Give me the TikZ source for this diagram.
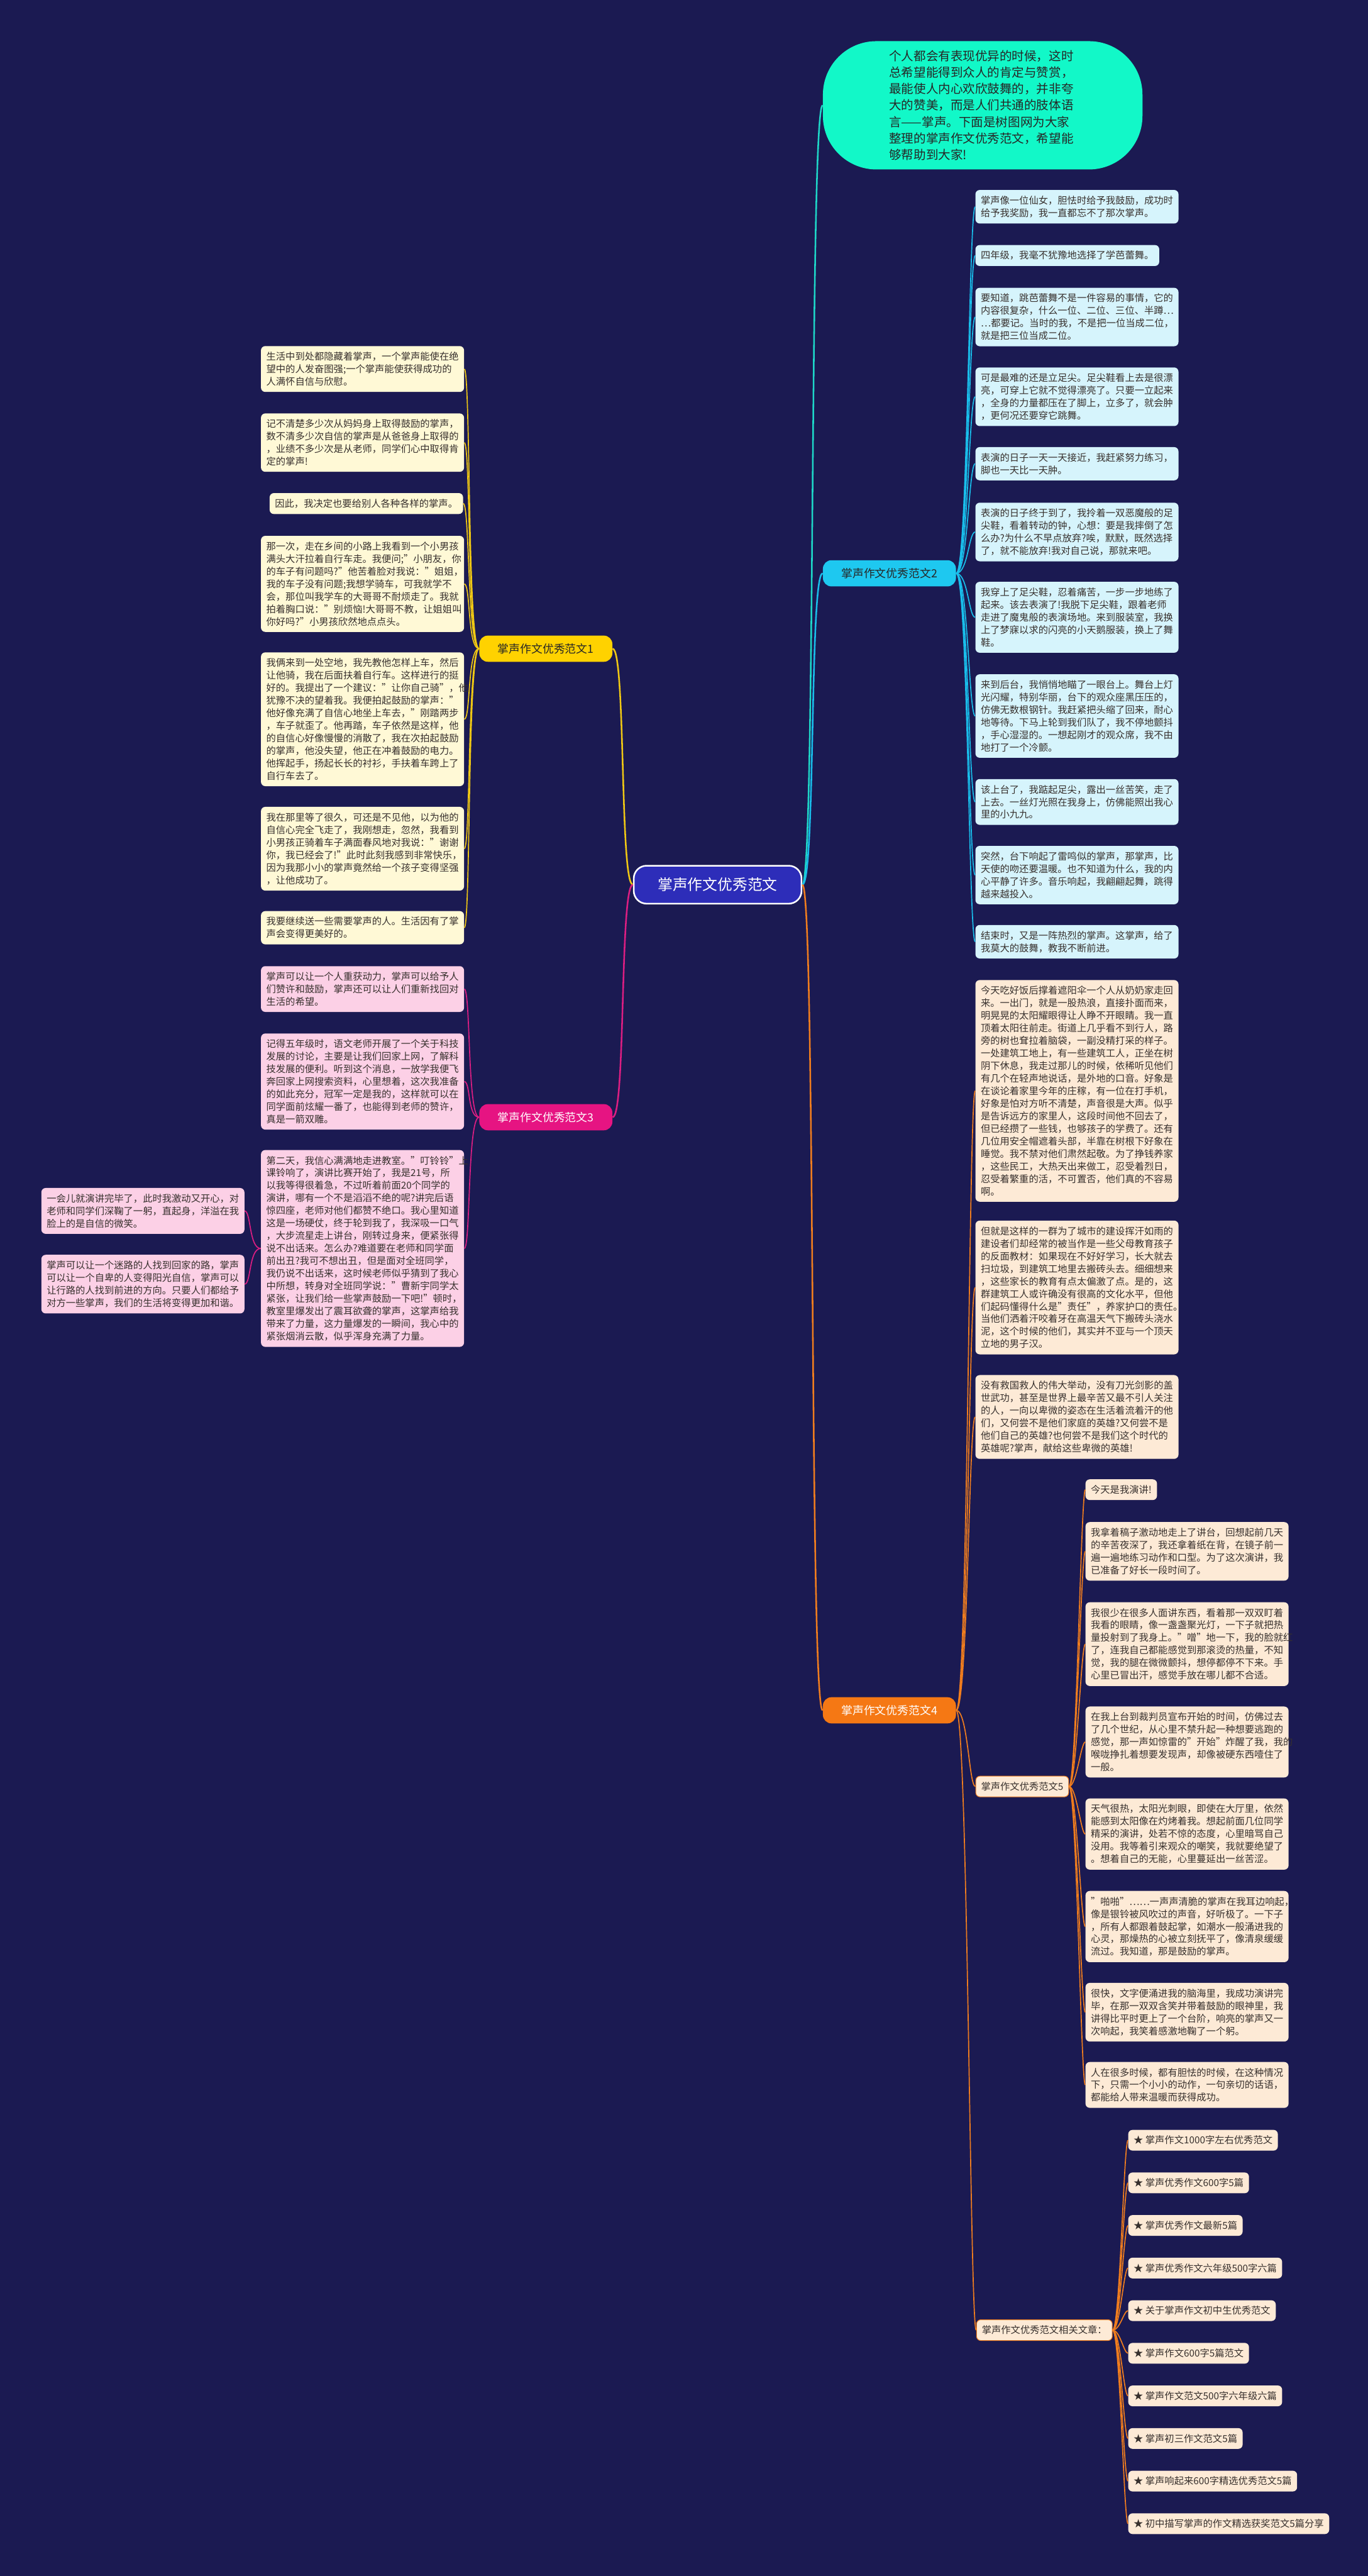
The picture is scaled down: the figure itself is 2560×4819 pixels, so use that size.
\documentclass[tikz,border=0pt]{standalone}
\usepackage{fontspec}
\setmainfont{Noto Sans CJK SC}
\usepackage{xcolor}
\usepackage{tikz}
\usetikzlibrary{positioning}

\definecolor{bgnavy}{RGB}{27,26,82}
\definecolor{mainfill}{RGB}{45,45,185}
\definecolor{introfill}{RGB}{18,248,200}
\definecolor{introline}{RGB}{30,215,200}
\definecolor{ylabel}{RGB}{255,210,0}
\definecolor{yleaf}{RGB}{255,249,214}
\definecolor{yline}{RGB}{240,200,20}
\definecolor{clabel}{RGB}{30,200,240}
\definecolor{cleaf}{RGB}{214,244,252}
\definecolor{cline}{RGB}{25,190,235}
\definecolor{plabel}{RGB}{230,20,130}
\definecolor{pleaf}{RGB}{252,208,230}
\definecolor{pline}{RGB}{220,30,130}
\definecolor{olabel}{RGB}{245,120,20}
\definecolor{oleaf}{RGB}{253,234,214}
\definecolor{oline}{RGB}{240,125,30}
\definecolor{leaftext}{RGB}{55,48,45}

\begin{document}
\begin{tikzpicture}[x=0.5pt, y=-0.5pt,
  card/.style={anchor=north west, rounded corners=4pt, inner xsep=5pt, inner ysep=5.5pt,
    font=\fontsize{9}{11.75}\selectfont, text=leaftext},
  leaf/.style={card, align=left, text width=180pt},
  topic/.style={rounded corners=8pt, minimum width=124.5pt, minimum height=24.5pt,
    font=\fontsize{10.5}{12}\selectfont},
  subtopic/.style={card, anchor=center, fill=oleaf, draw=oline, line width=0.6pt},
  link/.style={line width=1.5pt},
  twig/.style={line width=1pt}]
  \useasboundingbox (0,0) rectangle (2560,4819);
  \fill[bgnavy] (0,0) rectangle (2560,4819);

  % centre and intro bubble
  \node[draw=white!75, line width=1.5pt, fill=mainfill, text=white, rounded corners=12pt,
    minimum width=157pt, minimum height=35.5pt, font=\fontsize{14}{16}\selectfont]
    (main) at (1343,1655) {掌声作文优秀范文};
  \node[fill=introfill, rounded corners=50pt, minimum width=299pt, minimum height=120pt,
    text=black!85, align=left, text width=175pt, font=\fontsize{11.5}{15.35}\selectfont]
    (intro) at (1839,197) {个人都会有表现优异的时候，这时\\总希望能得到众人的肯定与赞赏，\\最能使人内心欢欣鼓舞的，并非夸\\大的赞美，而是人们共通的肢体语\\言——掌声。下面是树图网为大家\\整理的掌声作文优秀范文，希望能\\够帮助到大家!};

  % branch topics
  \node[topic, fill=ylabel, text=black!85] (b1) at (1021.5,1213.5) {掌声作文优秀范文1};
  \node[topic, fill=clabel, text=black!85] (b2) at (1664.5,1072.5) {掌声作文优秀范文2};
  \node[topic, fill=plabel, text=white] (b3) at (1021.5,2090) {掌声作文优秀范文3};
  \node[topic, fill=olabel, text=white] (b4) at (1664.5,3199.5) {掌声作文优秀范文4};

  % branch 1
  \node[leaf, fill=yleaf] (l11) at (488,647) {生活中到处都隐藏着掌声，一个掌声能使在绝\\望中的人发奋图强;一个掌声能使获得成功的\\人满怀自信与欣慰。};
  \node[leaf, fill=yleaf] (l12) at (488,773) {记不清楚多少次从妈妈身上取得鼓励的掌声，\\数不清多少次自信的掌声是从爸爸身上取得的\\，业绩不多少次是从老师，同学们心中取得肯\\定的掌声!};
  \node[card, anchor=north east, fill=yleaf] (l13) at (867,922) {因此，我决定也要给别人各种各样的掌声。};
  \node[leaf, fill=yleaf] (l14) at (488,1002) {那一次，走在乡间的小路上我看到一个小男孩\\满头大汗拉着自行车走。我便问;"小朋友，你\\的车子有问题吗?"他苦着脸对我说："姐姐，\\我的车子没有问题;我想学骑车，可我就学不\\会，那位叫我学车的大哥哥不耐烦走了。我就\\拍着胸口说："别烦恼!大哥哥不教，让姐姐叫\\你好吗?"小男孩欣然地点点头。};
  \node[leaf, fill=yleaf] (l15) at (488,1220) {我俩来到一处空地，我先教他怎样上车，然后\\让他骑，我在后面扶着自行车。这样进行的挺\\好的。我提出了一个建议："让你自己骑"，他\\犹豫不决的望着我。我便拍起鼓励的掌声："\\他好像充满了自信心地坐上车去，"刚踏两步\\，车子就歪了。他再踏，车子依然是这样，他\\的自信心好像慢慢的消散了，我在次拍起鼓励\\的掌声，他没失望，他正在冲着鼓励的电力。\\他挥起手，扬起长长的衬衫，手扶着车跨上了\\自行车去了。};
  \node[leaf, fill=yleaf] (l16) at (488,1509) {我在那里等了很久，可还是不见他，以为他的\\自信心完全飞走了，我刚想走，忽然，我看到\\小男孩正骑着车子满面春风地对我说："谢谢\\你，我已经会了!"此时此刻我感到非常快乐，\\因为我那小小的掌声竟然给一个孩子变得坚强\\，让他成功了。};
  \node[leaf, fill=yleaf] (l17) at (488,1704) {我要继续送一些需要掌声的人。生活因有了掌\\声会变得更美好的。};

  % branch 2
  \node[leaf, fill=cleaf] (l21) at (1825,355) {掌声像一位仙女，胆怯时给予我鼓励，成功时\\给予我奖励，我一直都忘不了那次掌声。};
  \node[card, fill=cleaf] (l22) at (1825,458) {四年级，我毫不犹豫地选择了学芭蕾舞。};
  \node[leaf, fill=cleaf] (l23) at (1825,538) {要知道，跳芭蕾舞不是一件容易的事情，它的\\内容很复杂，什么一位、二位、三位、半蹲…\\…都要记。当时的我，不是把一位当成二位，\\就是把三位当成二位。};
  \node[leaf, fill=cleaf] (l24) at (1825,687) {可是最难的还是立足尖。足尖鞋看上去是很漂\\亮，可穿上它就不觉得漂亮了。只要一立起来\\，全身的力量都压在了脚上，立多了，就会肿\\，更何况还要穿它跳舞。};
  \node[leaf, fill=cleaf] (l25) at (1825,836) {表演的日子一天一天接近，我赶紧努力练习，\\脚也一天比一天肿。};
  \node[leaf, fill=cleaf] (l26) at (1825,940) {表演的日子终于到了，我拎着一双恶魔般的足\\尖鞋，看着转动的钟，心想：要是我摔倒了怎\\么办?为什么不早点放弃?唉，默默，既然选择\\了，就不能放弃!我对自己说，那就来吧。};
  \node[leaf, fill=cleaf] (l27) at (1825,1088) {我穿上了足尖鞋，忍着痛苦，一步一步地练了\\起来。该去表演了!我脱下足尖鞋，跟着老师\\走进了魔鬼般的表演场地。来到服装室，我换\\上了梦寐以求的闪亮的小天鹅服装，换上了舞\\鞋。};
  \node[leaf, fill=cleaf] (l28) at (1825,1261) {来到后台，我悄悄地瞄了一眼台上。舞台上灯\\光闪耀，特别华丽，台下的观众座黑压压的，\\仿佛无数根钢针。我赶紧把头缩了回来，耐心\\地等待。下马上轮到我们队了，我不停地颤抖\\，手心湿湿的。一想起刚才的观众席，我不由\\地打了一个冷颤。};
  \node[leaf, fill=cleaf] (l29) at (1825,1457) {该上台了，我踮起足尖，露出一丝苦笑，走了\\上去。一丝灯光照在我身上，仿佛能照出我心\\里的小九九。};
  \node[leaf, fill=cleaf] (l2a) at (1825,1582) {突然，台下响起了雷鸣似的掌声，那掌声，比\\天使的吻还要温暖。也不知道为什么，我的内\\心平静了许多。音乐响起，我翩翩起舞，跳得\\越来越投入。};
  \node[leaf, fill=cleaf] (l2b) at (1825,1730) {结束时，又是一阵热烈的掌声。这掌声，给了\\我莫大的鼓舞，教我不断前进。};

  % branch 3
  \node[leaf, fill=pleaf] (l31) at (488,1807) {掌声可以让一个人重获动力，掌声可以给予人\\们赞许和鼓励，掌声还可以让人们重新找回对\\生活的希望。};
  \node[leaf, fill=pleaf] (l32) at (488,1933) {记得五年级时，语文老师开展了一个关于科技\\发展的讨论，主要是让我们回家上网，了解科\\技发展的便利。听到这个消息，一放学我便飞\\奔回家上网搜索资料，心里想着，这次我准备\\的如此充分，冠军一定是我的，这样就可以在\\同学面前炫耀一番了，也能得到老师的赞许，\\真是一箭双雕。};
  \node[leaf, fill=pleaf] (l33) at (488,2151) {第二天，我信心满满地走进教室。"叮铃铃"上\\课铃响了，演讲比赛开始了，我是21号，所\\以我等得很着急，不过听着前面20个同学的\\演讲，哪有一个不是滔滔不绝的呢?讲完后语\\惊四座，老师对他们都赞不绝口。我心里知道\\这是一场硬仗，终于轮到我了，我深吸一口气\\，大步流星走上讲台，刚转过身来，便紧张得\\说不出话来。怎么办?难道要在老师和同学面\\前出丑?我可不想出丑，但是面对全班同学，\\我仍说不出话来，这时候老师似乎猜到了我心\\中所想，转身对全班同学说："曹新宇同学太\\紧张，让我们给一些掌声鼓励一下吧!"顿时，\\教室里爆发出了震耳欲聋的掌声，这掌声给我\\带来了力量，这力量爆发的一瞬间，我心中的\\紧张烟消云散，似乎浑身充满了力量。};
  \node[leaf, fill=pleaf] (l331) at (77,2222) {一会儿就演讲完毕了，此时我激动又开心，对\\老师和同学们深鞠了一躬，直起身，洋溢在我\\脸上的是自信的微笑。};
  \node[leaf, fill=pleaf] (l332) at (77,2347) {掌声可以让一个迷路的人找到回家的路，掌声\\可以让一个自卑的人变得阳光自信，掌声可以\\让行路的人找到前进的方向。只要人们都给予\\对方一些掌声，我们的生活将变得更加和谐。};

  % branch 4
  \node[leaf, fill=oleaf] (l41) at (1825,1833) {今天吃好饭后撑着遮阳伞一个人从奶奶家走回\\来。一出门，就是一股热浪，直接扑面而来，\\明晃晃的太阳耀眼得让人睁不开眼睛。我一直\\顶着太阳往前走。街道上几乎看不到行人，路\\旁的树也耷拉着脑袋，一副没精打采的样子。\\一处建筑工地上，有一些建筑工人，正坐在树\\阴下休息，我走过那儿的时候，依稀听见他们\\有几个在轻声地说话，是外地的口音。好象是\\在谈论着家里今年的庄稼，有一位在打手机，\\好象是怕对方听不清楚，声音很是大声。似乎\\是告诉远方的家里人，这段时间他不回去了，\\但已经攒了一些钱，也够孩子的学费了。还有\\几位用安全帽遮着头部，半靠在树根下好象在\\睡觉。我不禁对他们肃然起敬。为了挣钱养家\\，这些民工，大热天出来做工，忍受着烈日，\\忍受着繁重的活，不可置否，他们真的不容易\\啊。};
  \node[leaf, fill=oleaf] (l42) at (1825,2283) {但就是这样的一群为了城市的建设挥汗如雨的\\建设者们却经常的被当作是一些父母教育孩子\\的反面教材：如果现在不好好学习，长大就去\\扫垃圾，到建筑工地里去搬砖头去。细细想来\\，这些家长的教育有点太偏激了点。是的，这\\群建筑工人或许确没有很高的文化水平，但他\\们起码懂得什么是"责任"，养家护口的责任。\\当他们洒着汗咬着牙在高温天气下搬砖头浇水\\泥，这个时候的他们，其实并不亚与一个顶天\\立地的男子汉。};
  \node[leaf, fill=oleaf] (l43) at (1825,2572) {没有救国救人的伟大举动，没有刀光剑影的盖\\世武功，甚至是世界上最辛苦又最不引人关注\\的人，一向以卑微的姿态在生活着流着汗的他\\们，又何尝不是他们家庭的英雄?又何尝不是\\他们自己的英雄?也何尝不是我们这个时代的\\英雄呢?掌声，献给这些卑微的英雄!};
  \node[subtopic] (s5) at (1913,3342) {掌声作文优秀范文5};
  \node[subtopic] (rel) at (1954.5,4359) {掌声作文优秀范文相关文章：};

  % essay 5 under branch 4
  \node[card, fill=oleaf] (l51) at (2031,2767) {今天是我演讲!};
  \node[leaf, fill=oleaf] (l52) at (2031,2847) {我拿着稿子激动地走上了讲台，回想起前几天\\的辛苦夜深了，我还拿着纸在背，在镜子前一\\遍一遍地练习动作和口型。为了这次演讲，我\\已准备了好长一段时间了。};
  \node[leaf, fill=oleaf] (l53) at (2031,2997) {我很少在很多人面讲东西，看着那一双双盯着\\我看的眼睛，像一盏盏聚光灯，一下子就把热\\量投射到了我身上。"噌"地一下，我的脸就红\\了，连我自己都能感觉到那滚烫的热量，不知\\觉，我的腿在微微颤抖，想停都停不下来。手\\心里已冒出汗，感觉手放在哪儿都不合适。};
  \node[leaf, fill=oleaf] (l54) at (2031,3192) {在我上台到裁判员宣布开始的时间，仿佛过去\\了几个世纪，从心里不禁升起一种想要逃跑的\\感觉，那一声如惊雷的"开始"炸醒了我，我的\\喉咙挣扎着想要发现声，却像被硬东西噎住了\\一般。};
  \node[leaf, fill=oleaf] (l55) at (2031,3364) {天气很热，太阳光刺眼，即使在大厅里，依然\\能感到太阳像在灼烤着我。想起前面几位同学\\精采的演讲，处若不惊的态度，心里暗骂自己\\没用。我等着引来观众的嘲笑，我就要绝望了\\。想着自己的无能，心里蔓延出一丝苦涩。};
  \node[leaf, fill=oleaf] (l56) at (2031,3537) {"啪啪"……一声声清脆的掌声在我耳边响起，\\像是银铃被风吹过的声音，好听极了。一下子\\，所有人都跟着鼓起掌，如潮水一般涌进我的\\心灵，那燥热的心被立刻抚平了，像清泉缓缓\\流过。我知道，那是鼓励的掌声。};
  \node[leaf, fill=oleaf] (l57) at (2031,3709) {很快，文字便涌进我的脑海里，我成功演讲完\\毕，在那一双双含笑并带着鼓励的眼神里，我\\讲得比平时更上了一个台阶，响亮的掌声又一\\次响起，我笑着感激地鞠了一个躬。};
  \node[leaf, fill=oleaf] (l58) at (2031,3857) {人在很多时候，都有胆怯的时候，在这种情况\\下，只需一个小小的动作，一句亲切的话语，\\都能给人带来温暖而获得成功。};

  % related articles
  \foreach \t [count=\i from 0] in {掌声作文1000字左右优秀范文, 掌声优秀作文600字5篇,
      掌声优秀作文最新5篇, 掌声优秀作文六年级500字六篇, 关于掌声作文初中生优秀范文,
      掌声作文600字5篇范文, 掌声作文范文500字六年级六篇, 掌声初三作文范文5篇,
      掌声响起来600字精选优秀范文5篇, 初中描写掌声的作文精选获奖范文5篇分享}
    \node[card, fill=oleaf] (r\i) at (2111,3984+79.7*\i) {★ \t};

  % connectors from the centre
  \draw[link, introline] (main.east) .. controls +(25,0) and +(-25,0) .. (intro.west);
  \draw[link, yline] (main.west) .. controls +(-25,0) and +(25,0) .. (b1.east);
  \draw[link, cline] (main.east) .. controls +(25,0) and +(-25,0) .. (b2.west);
  \draw[link, pline] (main.west) .. controls +(-25,0) and +(25,0) .. (b3.east);
  \draw[link, oline] (main.east) .. controls +(25,0) and +(-25,0) .. (b4.west);

  % connectors to the leaves
  \foreach \c in {l11,l12,l13,l14,l15,l16,l17}
    \draw[twig, yline] (b1.west) .. controls +(-22,0) and +(12,0) .. (\c.east);
  \foreach \c in {l21,l22,l23,l24,l25,l26,l27,l28,l29,l2a,l2b}
    \draw[twig, cline] (b2.east) .. controls +(22,0) and +(-12,0) .. (\c.west);
  \foreach \c in {l31,l32,l33}
    \draw[twig, pline] (b3.west) .. controls +(-22,0) and +(12,0) .. (\c.east);
  \foreach \c in {l331,l332}
    \draw[twig, pline] (l33.west) .. controls +(-22,0) and +(12,0) .. (\c.east);
  \foreach \c in {l41,l42,l43,s5,rel}
    \draw[twig, oline] (b4.east) .. controls +(22,0) and +(-12,0) .. (\c.west);
  \foreach \c in {l51,l52,l53,l54,l55,l56,l57,l58}
    \draw[twig, oline] (s5.east) .. controls +(14,0) and +(-8,0) .. (\c.west);
  \foreach \i in {0,...,9}
    \draw[twig, oline] (rel.east) .. controls +(14,0) and +(-8,0) .. (r\i.west);
\end{tikzpicture}
\end{document}
